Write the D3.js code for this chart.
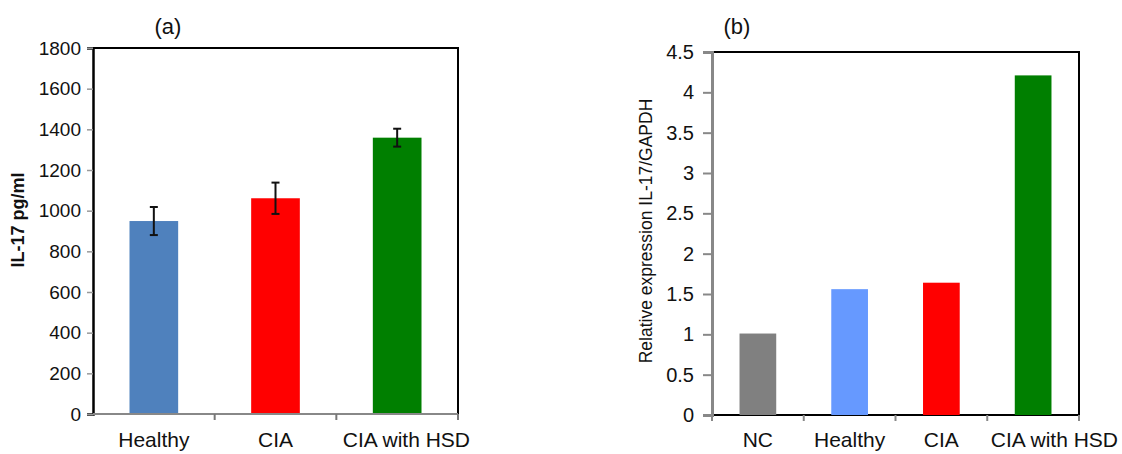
<!DOCTYPE html>
<html>
<head>
<meta charset="utf-8">
<script src="https://cdn.jsdelivr.net/npm/d3@7"></script>
<style>
  html, body { margin: 0; padding: 0; background: #fff; }
  svg text { font-family: "Liberation Sans", Arial, sans-serif; fill: #111; }
</style>
</head>
<body>
<div id="chart-container"></div>
<script>
// panel (a): IL-17 serum levels
const catsA = ["Healthy", "CIA", "CIA with HSD"];
const valsA = [949, 1061, 1359];
const errA = [69, 77, 44];
const ticksA = [0, 200, 400, 600, 800, 1000, 1200, 1400, 1600, 1800];
const coloursA = ["#4f81bd", "#ff0000", "#007f00"];

// panel (b): relative expression
const catsB = ["NC", "Healthy", "CIA", "CIA with HSD"];
const valsB = [1.01, 1.56, 1.64, 4.21];
const ticksB = [0, 0.5, 1, 1.5, 2, 2.5, 3, 3.5, 4, 4.5];
const coloursB = ["#808080", "#6699ff", "#ff0000", "#007f00"];

const width = 1122, height = 454;

const svg = d3.select("#chart-container")
  .append("svg")
  .attr("width", width)
  .attr("height", height);

// long last label sits to the right of its bar in the original
function placeLabels(sel, x, lastRight) {
  const n = sel.size();
  sel.each(function(d, i) {
    const t = d3.select(this);
    if (i === n - 1) t.attr("text-anchor", "end").attr("x", lastRight);
    else t.attr("text-anchor", "middle").attr("x", x(d) + x.bandwidth() / 2);
  });
}

// ---------- (a) ----------
const a = {left: 93, right: 458, top: 48, bottom: 414};

const xA = d3.scaleBand().domain(catsA).range([a.left, a.right]).paddingInner(0.6).paddingOuter(0.3);
const xA0 = d3.scaleBand().domain(catsA).range([a.left, a.right]);   // for boundary ticks
const yA = d3.scaleLinear().domain([0, 1800]).range([a.bottom, a.top]);

const gA = svg.append("g");

// frame top + right
gA.append("path")
  .attr("d", `M${a.left},${a.top}H${a.right}V${a.bottom}`)
  .attr("fill", "none").attr("stroke", "#000").attr("stroke-width", 2);

gA.selectAll(".bar")
  .data(catsA)
  .join("rect")
    .attr("x", d => xA(d))
    .attr("width", xA.bandwidth())
    .attr("y", (d, i) => yA(valsA[i]))
    .attr("height", (d, i) => yA(0) - yA(valsA[i]))
    .attr("fill", (d, i) => coloursA[i]);

// error bars
const eb = gA.selectAll(".err")
  .data(catsA)
  .join("g")
    .attr("transform", d => `translate(${xA(d) + xA.bandwidth() / 2},0)`);
eb.append("line")
  .attr("y1", (d, i) => yA(valsA[i] - errA[i]))
  .attr("y2", (d, i) => yA(valsA[i] + errA[i]))
  .attr("stroke", "#111").attr("stroke-width", 2);
[-1, 1].forEach(s => {
  eb.append("line")
    .attr("x1", -4).attr("x2", 4)
    .attr("y1", (d, i) => yA(valsA[i] + s * errA[i]))
    .attr("y2", (d, i) => yA(valsA[i] + s * errA[i]))
    .attr("stroke", "#111").attr("stroke-width", 2);
});

// y axis
const yAxisA = gA.append("g")
  .attr("transform", `translate(${a.left},0)`)
  .call(d3.axisLeft(yA).tickValues(ticksA).tickSize(6).tickPadding(6).tickFormat(d3.format("d")));
yAxisA.select(".domain").attr("stroke", "#000").attr("stroke-width", 2.5);
yAxisA.selectAll(".tick line").attr("stroke", "#999").attr("stroke-width", 1.5);
yAxisA.selectAll("text").style("font-size", "19px").attr("fill", "#222");

// x axis
const xAxisA = gA.append("g").attr("transform", `translate(0,${a.bottom})`);
xAxisA.append("line")
  .attr("x1", a.left).attr("x2", a.right)
  .attr("stroke", "#888").attr("stroke-width", 2);
xAxisA.selectAll(".bt")
  .data(catsA.slice(1).concat(["_end"]))
  .join("line")
    .attr("x1", d => d === "_end" ? a.right : xA0(d))
    .attr("x2", d => d === "_end" ? a.right : xA0(d))
    .attr("y1", 0).attr("y2", 6)
    .attr("stroke", "#777").attr("stroke-width", 2);
xAxisA.selectAll(".xl")
  .data(catsA)
  .join("text")
    .attr("y", 33)
    .style("font-size", "21px")
    .attr("fill", "#222")
    .text(d => d)
    .call(placeLabels, xA, a.right + 12);

gA.append("text")
  .attr("transform", `translate(24,220) rotate(-90)`)
  .attr("text-anchor", "middle")
  .style("font-size", "18px")
  .style("font-weight", "bold")
  .text("IL-17 pg/ml");

svg.append("text")
  .attr("x", 168).attr("y", 34)
  .attr("text-anchor", "middle")
  .style("font-size", "22px")
  .text("(a)");

// ---------- (b) ----------
const b = {left: 712, right: 1079, top: 52, bottom: 415};

const xB = d3.scaleBand().domain(catsB).range([b.left, b.right]).paddingInner(0.6).paddingOuter(0.3);
const xB0 = d3.scaleBand().domain(catsB).range([b.left, b.right]);
const yB = d3.scaleLinear().domain([0, 4.5]).range([b.bottom, b.top]);

const gB = svg.append("g");

gB.append("path")
  .attr("d", `M${b.left},${b.top}H${b.right}V${b.bottom}H${b.left}`)
  .attr("fill", "none").attr("stroke", "#000").attr("stroke-width", 2);

gB.selectAll(".bar")
  .data(catsB)
  .join("rect")
    .attr("x", d => xB(d))
    .attr("width", xB.bandwidth())
    .attr("y", (d, i) => yB(valsB[i]))
    .attr("height", (d, i) => yB(0) - yB(valsB[i]))
    .attr("fill", (d, i) => coloursB[i]);

const yAxisB = gB.append("g")
  .attr("transform", `translate(${b.left},0)`)
  .call(d3.axisLeft(yB).tickValues(ticksB).tickSize(9).tickPadding(9).tickFormat(d => String(d)));
yAxisB.select(".domain").attr("stroke", "#888").attr("stroke-width", 3);
yAxisB.selectAll(".tick line").attr("stroke", "#888").attr("stroke-width", 2);
yAxisB.selectAll("text").style("font-size", "20px").attr("fill", "#222");

const xAxisB = gB.append("g").attr("transform", `translate(0,${b.bottom})`);
xAxisB.selectAll(".bt")
  .data(catsB.concat(["_end"]))
  .join("line")
    .attr("x1", d => d === "_end" ? b.right : xB0(d))
    .attr("x2", d => d === "_end" ? b.right : xB0(d))
    .attr("y1", 0).attr("y2", 6)
    .attr("stroke", "#888").attr("stroke-width", 2);
xAxisB.selectAll(".xl")
  .data(catsB)
  .join("text")
    .attr("y", 32)
    .style("font-size", "21px")
    .attr("fill", "#222")
    .text(d => d)
    .call(placeLabels, xB, b.right + 39);

gB.append("text")
  .attr("transform", `translate(652,231) rotate(-90)`)
  .attr("text-anchor", "middle")
  .style("font-size", "17.5px")
  .attr("fill", "#333")
  .text("Relative expression IL-17/GAPDH");

svg.append("text")
  .attr("x", 737).attr("y", 34)
  .attr("text-anchor", "middle")
  .style("font-size", "22px")
  .text("(b)");
</script>
</body>
</html>
